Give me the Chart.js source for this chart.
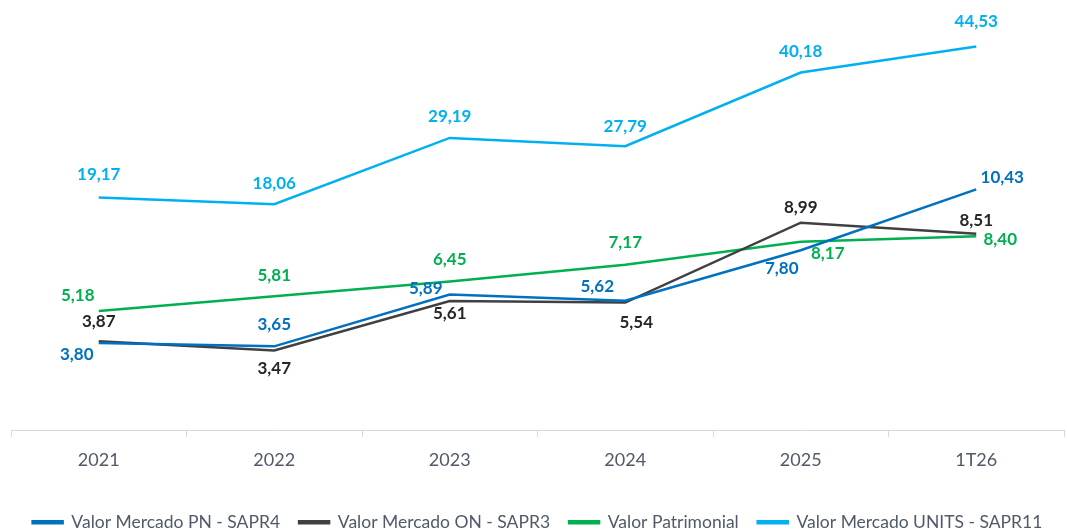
<!DOCTYPE html>
<html>
<head>
<meta charset="utf-8">
<script src="https://cdn.jsdelivr.net/npm/chart.js@4.4.1/dist/chart.umd.min.js"></script>
<style>
  html, body { margin: 0; padding: 0; background: #fff; }
  #wrap { width: 1067px; height: 532px; position: relative; }
</style>
</head>
<body>
<div id="wrap"><canvas id="myChart"></canvas></div>
<script>
// --- DADOS ---
const anos = ['2021', '2022', '2023', '2024', '2025', '1T26'];
const valorPN = [3.80, 3.65, 5.89, 5.62, 7.80, 10.43];
const valorON = [3.87, 3.47, 5.61, 5.54, 8.99, 8.51];
const valorPatrimonial = [5.18, 5.81, 6.45, 7.17, 8.17, 8.40];
const valorUnits = [19.17, 18.06, 29.19, 27.79, 40.18, 44.53];

// deslocamento dos rótulos (px) em relação ao ponto
const posPN = [[-22, 12], [0, -22], [-24, -6], [-28, -14], [-19, 18], [26, -12]];
const posON = [[0, -20], [0, 18], [0, 13], [11, 20], [0, -15], [0, -13]];
const posPat = [[-21, -15], [0, -21], [0, -22], [0, -22], [27, 12], [24, 3]];
const posUnits = [[0, -23], [0, -21], [0, -21], [0, -20], [0, -21], [0, -25]];

const FONT = "Lato, 'Open Sans', sans-serif";
const CINZA = '#505A69';

// --- PLUGIN DE RÓTULOS ---
const rotulos = {
    id: 'rotulos',
    afterDatasetsDraw(chart) {
        const ctx = chart.ctx;
        ctx.save();
        ctx.font = "bold 17px " + FONT;
        ctx.textAlign = 'center';
        ctx.textBaseline = 'middle';
        chart.data.datasets.forEach((ds, i) => {
            const meta = chart.getDatasetMeta(i);
            ctx.fillStyle = ds.labelColor;
            meta.data.forEach((pt, j) => {
                const off = ds.labelPos[j];
                const txt = ds.data[j].toFixed(2).replace('.', ',');
                ctx.fillText(txt, pt.x + off[0], pt.y + off[1]);
            });
        });
        ctx.restore();
    }
};

// legenda um pouco mais baixa (menos altura reservada)
const legendaBaixa = {
    id: 'legendaBaixa',
    beforeInit(chart) {
        const fitOrig = chart.legend.fit;
        chart.legend.fit = function () {
            fitOrig.bind(chart.legend)();
            this.height -= 9;
        };
    }
};

const ctx = document.getElementById('myChart').getContext('2d');
let myChart = new Chart(ctx, {
    type: 'line',
    data: {
        labels: anos,
        datasets: [
            {
                label: 'Valor Mercado PN - SAPR4',
                data: valorPN,
                borderColor: '#0070C0',
                backgroundColor: '#0070C0',
                labelColor: '#0070C0',
                labelPos: posPN,
                yAxisID: 'y'
            },
            {
                label: 'Valor Mercado ON - SAPR3',
                data: valorON,
                borderColor: '#404040',
                backgroundColor: '#404040',
                labelColor: '#262626',
                labelPos: posON,
                yAxisID: 'y'
            },
            {
                label: 'Valor Patrimonial',
                data: valorPatrimonial,
                borderColor: '#00B050',
                backgroundColor: '#00B050',
                labelColor: '#00B050',
                labelPos: posPat,
                yAxisID: 'y'
            },
            {
                label: 'Valor Mercado UNITS - SAPR11',
                data: valorUnits,
                borderColor: '#00B0F0',
                backgroundColor: '#00B0F0',
                labelColor: '#00B0F0',
                labelPos: posUnits,
                yAxisID: 'y2'
            }
        ]
    },
    options: {
        responsive: true,
        maintainAspectRatio: false,
        animation: false,
        elements: {
            line: { borderWidth: 2.5, tension: 0, fill: false },
            point: { radius: 0, hoverRadius: 0 }
        },
        layout: { padding: { left: 11, right: 3, top: 14, bottom: 0 } },
        scales: {
            x: {
                offset: true,
                border: { color: '#D9D9D9', width: 1 },
                grid: { display: true, drawOnChartArea: false, drawTicks: true, tickLength: 6, color: '#D9D9D9', offset: true },
                ticks: { color: CINZA, font: { family: FONT, size: 18 }, padding: 12 },
                afterFit: (scale) => { scale.height += 12; }
            },
            y: { display: false, min: 0, max: 18 },
            y2: { display: false, min: -20, max: 50 }
        },
        plugins: {
            legend: {
                position: 'bottom',
                labels: {
                    color: CINZA,
                    font: { family: FONT, size: 17.5 },
                    boxWidth: 30,
                    boxHeight: 2,
                    padding: 19
                }
            },
            tooltip: { enabled: false }
        }
    },
    plugins: [rotulos, legendaBaixa]
});
</script>
</body>
</html>
